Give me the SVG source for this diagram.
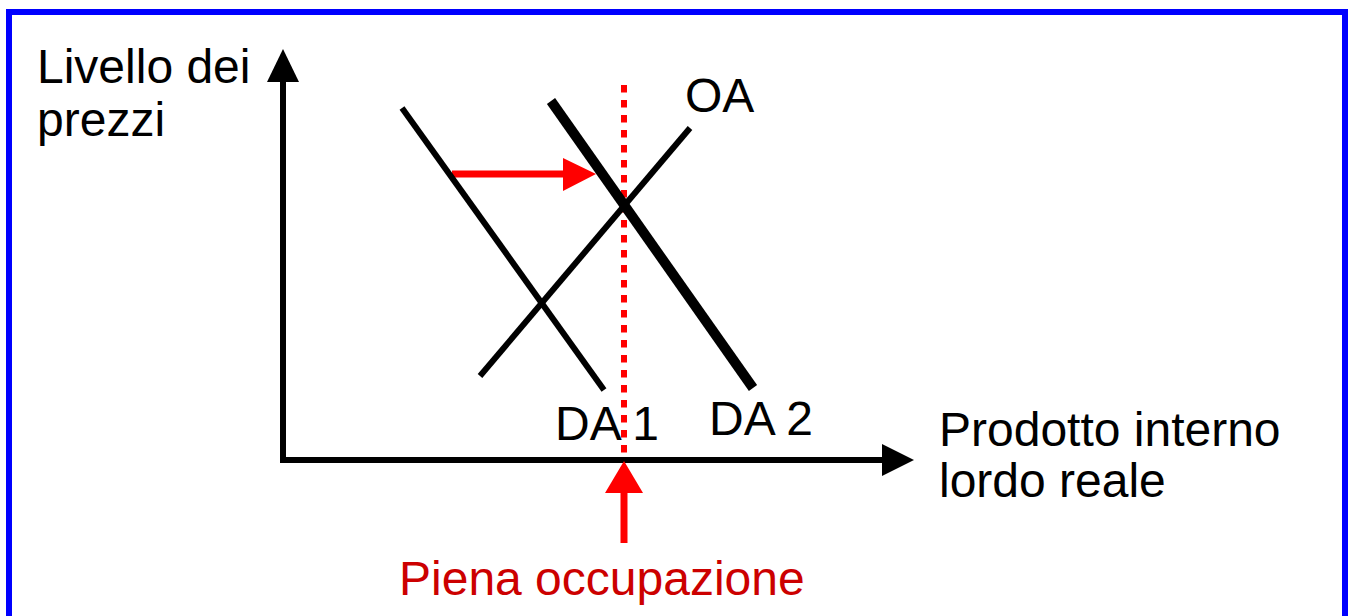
<svg xmlns="http://www.w3.org/2000/svg" width="1352" height="616" viewBox="0 0 1352 616">
<style>
text{font-family:"Liberation Sans",Arial,sans-serif;font-size:48px;fill:#000}
.red{fill:#CC0000}
.ax{stroke:#000;stroke-width:6;fill:none}
.curve{stroke:#000;fill:none}
</style>
<rect x="0" y="0" width="1352" height="616" fill="#fff"/>
<rect x="9" y="12" width="1336" height="640" fill="none" stroke="#0000FF" stroke-width="6"/>
<g id="axes">
<line class="ax" x1="283" y1="460" x2="283" y2="80"/>
<polygon points="283,49 267,82 299,82" fill="#000"/>
<line class="ax" x1="280" y1="460" x2="884" y2="460"/>
<polygon points="914,460 882,444 882,476" fill="#000"/>
</g>
<g id="connectors">
<line id="full-employment" x1="624" y1="85" x2="624" y2="460" stroke="#FF0000" stroke-width="6" stroke-dasharray="7.5 7.5"/>
<line x1="452" y1="174" x2="565" y2="174" stroke="#FF0000" stroke-width="7"/>
<polygon points="596,174 563,158 563,191" fill="#FF0000"/>
<line x1="624" y1="543" x2="624" y2="490" stroke="#FF0000" stroke-width="7"/>
<polygon points="624,461 605,493 643,493" fill="#FF0000"/>
</g>
<g id="DA1"><line class="curve" x1="402" y1="108" x2="604" y2="390" stroke-width="6"/><text x="555" y="440">DA 1</text></g>
<g id="DA2"><line class="curve" x1="551" y1="101" x2="753" y2="388" stroke-width="10"/><text x="709" y="435">DA 2</text></g>
<g id="OA"><line class="curve" x1="480" y1="376" x2="690" y2="128" stroke-width="6"/><text x="685" y="112">OA</text></g>
<g id="ylabel"><text x="37" y="83">Livello dei</text><text x="37" y="136">prezzi</text></g>
<g id="xlabel"><text x="939" y="446">Prodotto interno</text><text x="939" y="497">lordo reale</text></g>
<g id="note"><text class="red" x="399" y="595">Piena occupazione</text></g>
</svg>
